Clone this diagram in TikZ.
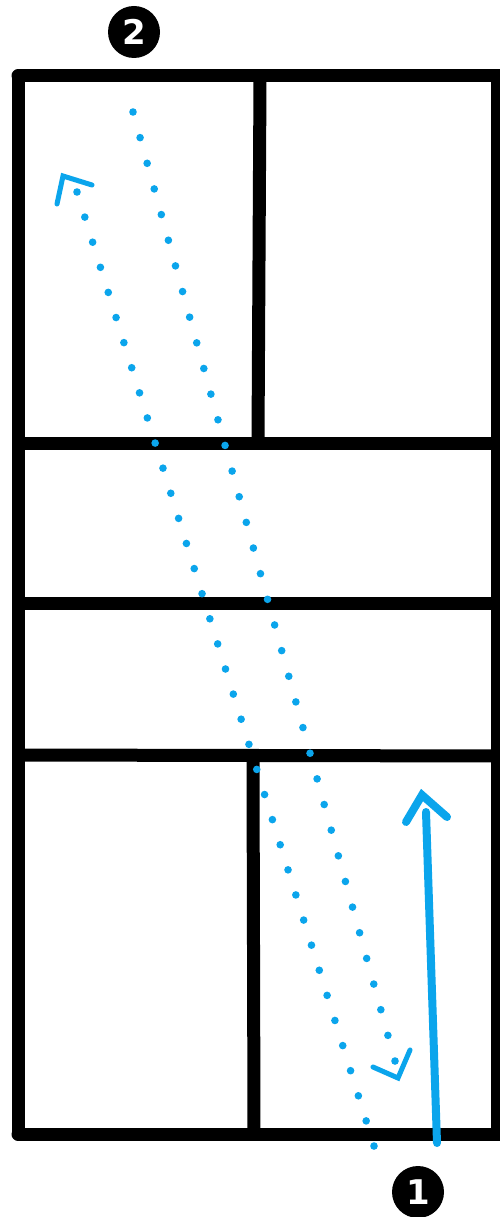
\documentclass[tikz,border=0pt]{standalone}
\usepackage{fontspec}
\setmainfont{DejaVu Sans}
\usetikzlibrary{calc}
\definecolor{bl}{HTML}{0BA5EC}
\tikzset{
  wall/.style={line width=13pt, line cap=round, line join=round, black},
  chev/.style={line width=5pt, bl, line cap=round, line join=miter},
  solidarrow/.style={line width=8pt, bl, line cap=round},
  dotc/.style={fill=bl},
  badge/.style={circle, fill=black, text=white, minimum size=52pt, inner sep=0pt, font=\fontsize{34}{34}\selectfont\bfseries}
}
\begin{document}
\begin{tikzpicture}[x=1pt,y=-1pt]
\useasboundingbox (0,0) rectangle (500,1217);
% frame
\draw[wall] (18,76) -- (506,76);
\draw[wall] (18,76) -- (18,1134);
\draw[wall] (18,1134) -- (506,1134);
\draw[wall, line cap=butt] (497,70) -- (497,1140);
% dividers
\draw[wall] (20,443) -- (506,443);
\draw[wall] (20,603) -- (506,603);
\draw[wall] (20,755) -- (506,756);
\draw[wall] (260,80) -- (258,440);
\draw[wall] (253,762) -- (254,1130);
% dotted paths
\coordinate (a1) at (77,192);
\coordinate (a2) at (374,1146);
\coordinate (b1) at (133,112);
\coordinate (b2) at (395,1061);
\foreach \t in {0,...,38} \fill[dotc] ($(a1)!\t/38!(a2)$) circle (3.8);
\foreach \t in {0,...,37} \fill[dotc] ($(b1)!\t/37!(b2)$) circle (3.8);
% chevrons
\draw[chev] (57,204) -- (63,176) -- (92,185);
\draw[chev] (373,1067) -- (398,1078) -- (410,1050);
% solid arrow
\coordinate (s1) at (437,1143);
\coordinate (s2) at (426,812);
\draw[solidarrow] (s1) -- (s2);
\draw[solidarrow] (406,822) -- (422,795) -- (447,817);
% badges
\node[badge] (n2) at (134,32) {2};
\node[badge] (n1) at (418,1192) {1};
\end{tikzpicture}
\end{document}
